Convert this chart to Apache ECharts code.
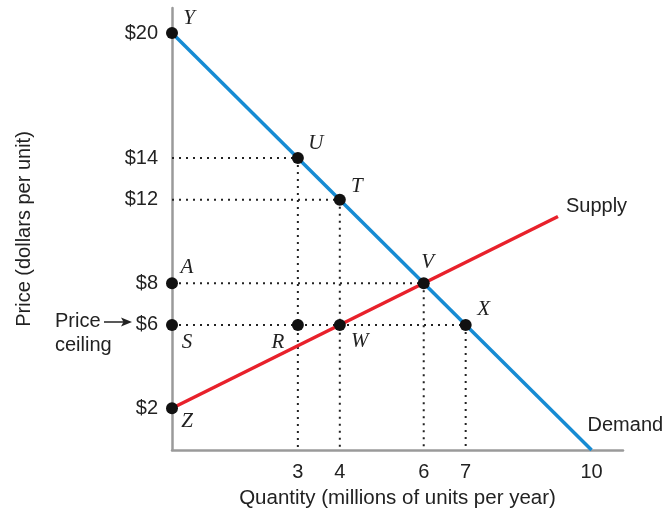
<!DOCTYPE html>
<html>
<head>
<meta charset="utf-8">
<script src="https://cdn.jsdelivr.net/npm/echarts@6/dist/echarts.min.js"></script>
<style>html,body{margin:0;padding:0;background:#fff}#c{width:666px;height:514px}</style>
</head>
<body>
<div id="c"></div>
<script>
// ---- data ----
const demandQ = [0, 10];
const demandP = [20, 0];
const supplyQ = [0, 9.2];
const supplyP = [2, 11.2];
const pointNames = ['Y', 'U', 'T', 'V', 'X', 'A', 'S', 'R', 'W', 'Z'];
const pointQ = [0, 3, 4, 6, 7, 0, 0, 3, 4, 0];
const pointP = [20, 14, 12, 8, 6, 8, 6, 6, 6, 2];
const guideQ = [3, 4, 6, 7];
const guideP = [14, 12, 8, 6];
const xTickLabels = [3, 4, 6, 7, 10];
const yTickLabels = [20, 14, 12, 8, 6, 2];

// ---- styling ----
const FONT = 'Liberation Sans, Arial, Helvetica, sans-serif';
const labelOffsets = {
  Y: [17, -15], U: [18, -15], T: [17, -13], V: [4, -21], X: [18, -15],
  A: [15, -16], S: [15, 18], R: [-20, 18], W: [20, 17], Z: [15, 13]
};
const dotStyle = { color: '#222', width: 2, type: [2, 5] };

const series = [];
guideQ.forEach((q, i) => {
  series.push({
    type: 'line', silent: true, symbol: 'none', z: 1,
    lineStyle: dotStyle,
    data: [[0, guideP[i]], [q, guideP[i]]]
  });
  series.push({
    type: 'line', silent: true, symbol: 'none', z: 1,
    lineStyle: dotStyle,
    data: [[q, guideP[i]], [q, 0]]
  });
});
series.push({
  name: 'Demand', type: 'line', symbol: 'none', z: 3,
  lineStyle: { color: '#168bd3', width: 3.5 },
  data: demandQ.map((q, i) => [q, demandP[i]]),
  endLabel: { show: true, formatter: 'Demand', offset: [-12, -25], color: '#222',
    fontFamily: FONT, fontSize: 20 }
});
series.push({
  name: 'Supply', type: 'line', symbol: 'none', z: 3,
  lineStyle: { color: '#e8212b', width: 3.5 },
  data: supplyQ.map((q, i) => [q, supplyP[i]]),
  endLabel: { show: true, formatter: 'Supply', offset: [0, -10], color: '#222',
    fontFamily: FONT, fontSize: 20 }
});
series.push({
  type: 'scatter', symbolSize: 12, z: 5,
  itemStyle: { color: '#111', opacity: 1 },
  data: pointNames.map((n, i) => ({
    name: n, value: [pointQ[i], pointP[i]],
    label: { offset: labelOffsets[n] }
  })),
  label: {
    show: true, position: 'inside', formatter: '{b}', color: '#222',
    fontFamily: 'Liberation Serif, Times New Roman, serif', fontStyle: 'italic',
    fontSize: 21, align: 'center', verticalAlign: 'middle'
  }
});

const chart = echarts.init(document.getElementById('c'), null, { renderer: 'canvas' });
chart.setOption({
  animation: false,
  backgroundColor: '#fff',
  grid: { left: 172, right: 43, top: 8, bottom: 64, containLabel: false },
  xAxis: {
    type: 'value', min: 0, max: 10.75, interval: 1,
    name: 'Quantity (millions of units per year)', nameLocation: 'middle', nameGap: 38,
    nameTextStyle: { color: '#222', fontFamily: FONT, fontSize: 20.5 },
    axisLine: { show: true, onZero: false, lineStyle: { color: '#9a9a9a', width: 2.5 } },
    axisTick: { show: false }, splitLine: { show: false },
    axisLabel: {
      color: '#222', fontFamily: FONT, fontSize: 20, margin: 12,
      showMinLabel: true, showMaxLabel: true,
      formatter: v => (xTickLabels.indexOf(v) >= 0 ? String(v) : '')
    }
  },
  yAxis: {
    type: 'value', min: 0, max: 21.2, interval: 2,
    name: 'Price (dollars per unit)', nameLocation: 'middle', nameGap: 138,
    nameTextStyle: { color: '#222', fontFamily: FONT, fontSize: 20 },
    axisLine: { show: true, onZero: false, lineStyle: { color: '#9a9a9a', width: 2.5 } },
    axisTick: { show: false }, splitLine: { show: false },
    axisLabel: {
      color: '#222', fontFamily: FONT, fontSize: 20, margin: 14,
      formatter: v => (yTickLabels.indexOf(v) >= 0 ? '$' + v : '')
    }
  },
  graphic: [
    { type: 'text', left: 55, top: 311, style: { text: 'Price', fill: '#222', font: '20px ' + FONT } },
    { type: 'text', left: 55, top: 335, style: { text: 'ceiling', fill: '#222', font: '20px ' + FONT } },
    { type: 'line', shape: { x1: 104, y1: 322, x2: 124, y2: 322 }, style: { stroke: '#222', lineWidth: 1.5 } },
    { type: 'polygon', shape: { points: [[132, 322], [121, 317.5], [123.5, 322], [121, 326.5]] }, style: { fill: '#222' } }
  ],
  series: series
});
</script>
</body>
</html>
